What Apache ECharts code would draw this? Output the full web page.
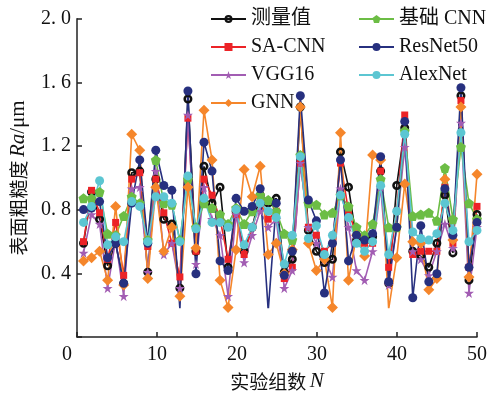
<!DOCTYPE html>
<html>
<head>
<meta charset="utf-8">
<script src="https://cdn.jsdelivr.net/npm/echarts@6/dist/echarts.min.js"></script>
<style>
html,body{margin:0;padding:0;background:#fff;}
#chart{width:490px;height:397px;}
</style>
</head>
<body>
<div id="chart"></div>
<script>

// experiment group numbers (x)
const groups=[
    1,2,3,4,5,6,7,8,9,10,
    11,12,13,14,15,16,17,18,19,20,
    21,22,23,24,25,26,27,28,29,30,
    31,32,33,34,35,36,37,38,39,40,
    41,42,43,44,45,46,47,48,49,50
];

// surface roughness Ra / um
const measured=[
    0.60,0.92,0.75,0.46,0.60,0.35,1.04,1.05,0.42,1.00,
    0.75,0.72,0.32,1.50,0.55,1.08,0.85,0.95,0.45,0.80,
    0.55,0.70,0.90,0.85,0.88,0.42,0.50,1.45,0.68,0.55,
    0.48,0.50,1.17,0.95,0.62,0.62,0.64,1.05,0.35,0.96,
    1.32,0.55,0.52,0.45,0.60,0.90,0.54,1.52,0.37,0.78
];

const saCnn=[
    0.61,0.93,0.79,0.50,0.73,0.40,1.00,1.04,0.58,1.00,
    0.79,0.60,0.39,1.38,0.55,1.00,0.90,0.75,0.50,0.78,
    0.53,0.70,0.85,0.75,0.80,0.38,0.45,1.10,0.70,0.65,
    0.55,0.60,1.10,0.80,0.65,0.60,0.60,1.05,0.45,0.80,
    1.40,0.53,0.55,0.55,0.55,0.95,0.60,1.49,0.45,0.83
];

const vgg16=[
    0.54,0.78,0.72,0.32,0.62,0.27,0.94,0.95,0.42,1.05,
    0.53,0.60,0.32,1.40,0.47,0.95,0.75,0.65,0.27,0.78,
    0.48,0.65,0.80,0.70,0.75,0.32,0.43,1.10,0.70,0.60,
    0.50,0.39,0.94,0.70,0.43,0.37,0.55,0.95,0.34,0.70,
    1.20,0.55,0.50,0.40,0.55,0.72,0.57,1.35,0.29,0.70
];

const gnn=[
    0.49,0.51,0.55,0.37,0.83,0.34,1.28,1.18,0.38,0.95,
    0.55,0.70,0.27,0.95,0.57,1.43,1.12,0.37,0.20,0.56,
    1.06,0.89,1.08,0.53,0.60,0.41,0.56,1.45,0.60,0.43,
    0.50,0.20,1.29,0.37,0.65,0.52,1.15,1.12,0.19,0.51,
    0.97,0.61,0.60,0.31,0.38,1.00,0.62,1.45,0.39,1.03
];

const baseCnn=[
    0.88,0.88,0.92,0.66,0.65,0.77,0.89,0.85,0.62,1.12,
    0.85,0.84,0.62,1.00,0.70,0.85,0.82,0.78,0.72,0.82,
    0.72,0.80,0.90,0.87,0.80,0.66,0.62,1.15,0.85,0.84,
    0.78,0.79,0.90,0.83,0.70,0.65,0.72,1.00,0.70,0.70,
    1.30,0.77,0.78,0.79,0.74,1.07,0.75,1.20,0.85,0.75
];

const resNet50=[
    0.81,0.82,0.86,0.51,0.60,0.35,0.85,1.12,0.60,1.18,
    0.96,0.93,0.19,1.55,0.41,1.23,1.05,0.49,0.43,0.88,
    0.80,0.83,0.94,0.18,0.85,0.40,0.55,1.52,0.87,0.74,
    0.29,0.60,1.12,0.49,0.65,0.62,0.66,1.14,0.36,0.70,
    1.36,0.26,0.71,0.36,0.41,0.94,0.65,1.57,0.45,0.73
];

const alexNet=[
    0.73,0.83,0.99,0.59,0.64,0.61,0.86,0.83,0.61,0.89,
    0.89,0.85,0.61,1.02,0.69,0.88,0.73,0.73,0.70,0.81,
    0.59,0.70,0.85,0.80,0.76,0.47,0.65,1.14,0.63,0.71,
    0.53,0.65,0.90,0.76,0.60,0.55,0.61,0.96,0.53,0.80,
    1.28,0.67,0.63,0.62,0.66,0.85,0.68,1.29,0.61,0.68
];

const yTicks=[0.4,0.8,1.2,1.6,2.0];

const serif="'Liberation Serif','Noto Sans CJK SC',serif";

const STAR="path://M50,0 L61,35 L98,35 L68,57 L79,91 L50,70 L21,91 L32,57 L2,35 L39,35 Z";
const PENTAGON="path://M50,2 L98,37 L80,94 L20,94 L2,37 Z";

// black disc with a small white hole in the middle
const RING="path://M0,50 A50,50 0 1,1 100,50 A50,50 0 1,1 0,50 Z M28,50 A22,22 0 1,0 72,50 A22,22 0 1,0 28,50 Z";

function makeSeries(name,values,color,symbol,size,extra){

    const series={
        name:name,
        type:"line",
        xAxisIndex:1,
        yAxisIndex:1,
        data:groups.map((g,i)=>[g,values[i]]),
        symbol:symbol,
        symbolSize:size,
        lineStyle:{color:color,width:1.6},
        itemStyle:{color:color},
        clip:true
    };

    return Object.assign(series,extra||{});

}

const chart=echarts.init(document.getElementById("chart"));

const legendText={
    fontFamily:serif,
    fontSize:20,
    color:"#111",
    lineHeight:20
};

chart.setOption({

    animation:false,

    grid:[
        {left:75.5,right:13,top:18.8,bottom:57.5},
        {left:75.5,right:13,top:18.8,bottom:89.6}
    ],

    legend:[
        {
            data:["测量值","SA-CNN","VGG16","GNN"],
            orient:"vertical",
            left:205,
            top:4,
            itemWidth:35,
            itemHeight:10,
            itemGap:8,
            textStyle:legendText
        },
        {
            data:["基础 CNN","ResNet50","AlexNet"],
            orient:"vertical",
            left:353,
            top:4,
            itemWidth:35,
            itemHeight:10,
            itemGap:8,
            textStyle:legendText
        }
    ],

    xAxis:[
        {
            gridIndex:0,
            type:"value",
            min:0,
            max:50,
            interval:10,
            name:"{t|实验组数} {i|N}",
            nameLocation:"middle",
            nameGap:34,
            nameTextStyle:{
                rich:{
                    t:{fontFamily:"'Noto Sans CJK SC'",fontSize:19,color:"#111"},
                    i:{fontFamily:serif,fontStyle:"italic",fontSize:21,color:"#111"}
                }
            },
            axisLine:{lineStyle:{color:"#222",width:1.5}},
            axisTick:{inside:true,length:5,lineStyle:{color:"#222",width:1.5}},
            splitLine:{show:false},
            axisLabel:{
                fontFamily:serif,
                fontSize:20,
                color:"#111",
                margin:8,
                formatter:v=>v===0?"{z|0}":String(v),
                rich:{
                    z:{fontFamily:serif,fontSize:20,color:"#111",padding:[0,20,0,0]}
                }
            }
        },
        {gridIndex:1,type:"value",min:0,max:50,show:false}
    ],

    yAxis:[
        {
            gridIndex:0,
            type:"value",
            min:0,
            max:yTicks[yTicks.length-1],
            interval:yTicks[1]-yTicks[0],
            name:"{t|表面粗糙度} {i|Ra}{r|/μm}",
            nameLocation:"middle",
            nameGap:48,
            nameTextStyle:{
                rich:{
                    t:{fontFamily:"'Noto Sans CJK SC'",fontSize:19,color:"#111"},
                    i:{fontFamily:serif,fontStyle:"italic",fontSize:21,color:"#111"},
                    r:{fontFamily:serif,fontSize:21,color:"#111"}
                }
            },
            axisLine:{show:true,lineStyle:{color:"#222",width:1.5}},
            axisTick:{show:true,inside:true,length:5,lineStyle:{color:"#222",width:1.5}},
            splitLine:{show:false},
            axisLabel:{
                fontFamily:serif,
                fontSize:20,
                color:"#111",
                margin:6,
                formatter:v=>v===0?"":v.toFixed(1).replace(".",". ")
            }
        },
        {gridIndex:1,type:"value",min:0.2,max:2,show:false}
    ],

    series:[
        makeSeries("测量值",measured,"#111",RING,9,{
            itemStyle:{color:"#111",borderWidth:0}
        }),
        makeSeries("SA-CNN",saCnn,"#ec2327","rect",7),
        makeSeries("VGG16",vgg16,"#a25db3",STAR,10),
        makeSeries("基础 CNN",baseCnn,"#6cbd45",PENTAGON,10),
        makeSeries("GNN",gnn,"#f5862b","diamond",11),
        makeSeries("ResNet50",resNet50,"#27307f","circle",9),
        makeSeries("AlexNet",alexNet,"#5cc6d2","circle",9)
    ]

});

</script>
</body>
</html>
